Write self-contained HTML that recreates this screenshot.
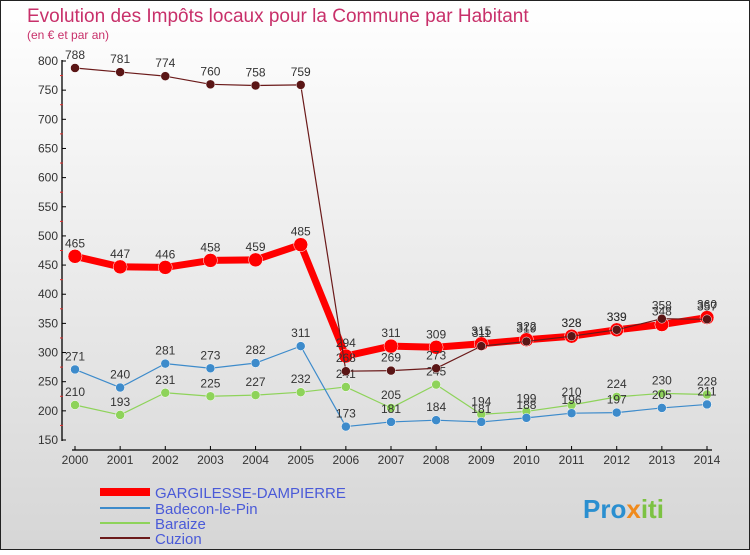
<!DOCTYPE html>
<html><head><meta charset="utf-8"><style>
body{margin:0;width:750px;height:550px;overflow:hidden;font-family:"Liberation Sans",sans-serif}
</style></head><body>
<svg width="750" height="550" xmlns="http://www.w3.org/2000/svg" font-family="Liberation Sans, sans-serif">
<defs><linearGradient id="bg" x1="0" y1="0" x2="0" y2="1"><stop offset="0" stop-color="#ffffff"/><stop offset="1" stop-color="#d6d6d6"/></linearGradient></defs>
<rect x="0.5" y="0.5" width="749" height="549" fill="url(#bg)" stroke="#222"/>
<text x="27" y="22" font-size="19" fill="#c8306a">Evolution des Impôts locaux pour la Commune par Habitant</text>
<text x="27" y="39" font-size="12" fill="#c8306a">(en € et par an)</text>
<g id="axes"></g><g id="series"></g>
<g>
<line x1="100" y1="492" x2="150" y2="492" stroke="#f00" stroke-width="8"/>
<text x="155" y="498" font-size="15" fill="#4a5ad8">GARGILESSE-DAMPIERRE</text>
<line x1="100" y1="508" x2="150" y2="508" stroke="#3d8bcb" stroke-width="2"/>
<text x="155" y="514" font-size="15" fill="#4a5ad8">Badecon-le-Pin</text>
<line x1="100" y1="523" x2="150" y2="523" stroke="#8ed35a" stroke-width="2"/>
<text x="155" y="529" font-size="15" fill="#4a5ad8">Baraize</text>
<line x1="100" y1="538" x2="150" y2="538" stroke="#6b1a1a" stroke-width="2"/>
<text x="155" y="544" font-size="15" fill="#4a5ad8">Cuzion</text>
</g>
<text x="583" y="518" font-size="26" font-weight="bold" fill="#2a8fd0">Pro<tspan fill="#f08a1c">x</tspan><tspan fill="#7cc242">iti</tspan></text>
</svg>
<script>
const years=[2000,2001,2002,2003,2004,2005,2006,2007,2008,2009,2010,2011,2012,2013,2014];
const gargilesse=[465,447,446,458,459,485,294,311,309,315,322,328,339,348,360];
const badecon=[271,240,281,273,282,311,173,181,184,181,188,196,197,205,211];
const baraize=[210,193,231,225,227,232,241,205,245,194,199,210,224,230,228];
const cuzion=[788,781,774,760,758,759,268,269,273,311,319,328,339,358,357];
const yTicks=[150,200,250,300,350,400,450,500,550,600,650,700,750,800];
const NS="http://www.w3.org/2000/svg";
const X=i=>75+i*(707-75)/(years.length-1);
const Y=v=>440-(v-150)*(440-61)/650;
function mk(tag,at,parent){const e=document.createElementNS(NS,tag);for(const k in at)e.setAttribute(k,at[k]);parent.appendChild(e);return e;}
const ax=document.getElementById('axes');
let a=mk('line',{x1:62,y1:Y(800)-1,x2:62,y2:Y(150)+1,stroke:'#000','stroke-width':1.3},ax);


yTicks.forEach(t=>{
 mk('line',{x1:62,y1:Y(t),x2:66,y2:Y(t),stroke:'#000'},ax);
 const tx=mk('text',{x:58,y:Y(t)+4,'font-size':12,'text-anchor':'end',fill:'#333'},ax);tx.textContent=t;
 
 
 if(t<800) mk('line',{x1:60,y1:Y(t+25),x2:63,y2:Y(t+25),stroke:'#e03030'},ax);
});
let xa=mk('line',{x1:72,y1:450,x2:712,y2:450,stroke:'#000','stroke-width':1.3},ax);


years.forEach((yr,i)=>{
 mk('line',{x1:X(i),y1:446,x2:X(i),y2:450,stroke:'#000'},ax);
 const tx=mk('text',{x:X(i),y:464,'font-size':12,'text-anchor':'middle',fill:'#333'},ax);tx.textContent=yr;
 
 
});
const sg=document.getElementById('series');
function draw(vals,color,w,r,name,dot){
 const g=mk('g',{},sg);
 
 
 const pl=mk('polyline',{points:vals.map((v,i)=>X(i)+','+Y(v)).join(' '),fill:'none',stroke:color,'stroke-width':w,'stroke-linejoin':'round'},g);
 
 
 vals.forEach((v,i)=>{
  const c=mk('circle',{cx:X(i),cy:Y(v),r:r,fill:dot,stroke:'#fff','stroke-width':0.5},g);
  
  
  const t=mk('text',{x:X(i),y:Y(v)-9,'font-size':12,'text-anchor':'middle',fill:'#333'},g);t.textContent=v;
  
  
 });
}
draw(baraize,'#8ed35a',1.2,4.5,'baraize','#8ed35a');
draw(badecon,'#3d8bcb',1.2,4.5,'badecon','#3d8bcb');
draw(gargilesse,'#f00',7,7,'gargilesse','#f00');
draw(cuzion,'#6b1a1a',1.2,4.5,'cuzion','#5a1515');
</script>
</body></html>
